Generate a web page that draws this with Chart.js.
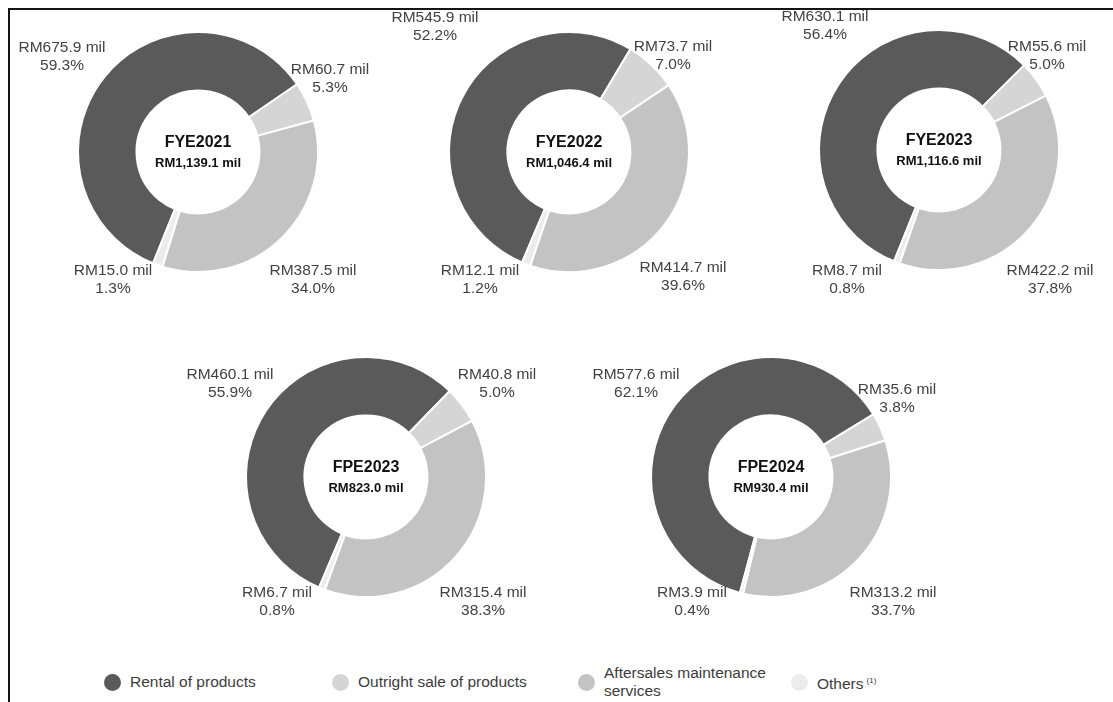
<!DOCTYPE html>
<html>
<head>
<meta charset="utf-8">
<title>Revenue by segment</title>
<script src="https://cdn.jsdelivr.net/npm/chart.js@4.4.1/dist/chart.umd.min.js"></script>
<style>
  html, body { margin: 0; padding: 0; background: #fff; }
  body { width: 1113px; height: 702px; overflow: hidden; position: relative;
         font-family: "Liberation Sans", Arial, sans-serif; }
  .frame { position: absolute; left: 8px; top: 8px; right: 0; bottom: 0;
           border-top: 2px solid #141414; border-left: 2px solid #141414; }
  .donut { position: absolute; width: 400px; height: 330px; }
  .legend-item { position: absolute; display: flex; align-items: center;
                 font-size: 15.5px; color: #3c3c3c; line-height: 18px; }
  .legend-item .dot { width: 17px; height: 17px; border-radius: 50%; margin-right: 9px; flex: none; }
  .legend-item sup { font-size: 8px; vertical-align: 6px; margin-left: 3px; }
</style>
</head>
<body>
<div class="frame"></div>
<div id="charts"></div>
<div id="legend"></div>
<script>
// Revenue segments (RM million) per financial period
const periods = ['FYE2021', 'FYE2022', 'FYE2023', 'FPE2023', 'FPE2024'];
const segments = ['Rental of products', 'Outright sale of products', 'Aftersales maintenance services', 'Others'];
const rental = [675.9, 545.9, 630.1, 460.1, 577.6];
const outrightSale = [60.7, 73.7, 55.6, 40.8, 35.6];
const aftersales = [387.5, 414.7, 422.2, 315.4, 313.2];
const others = [15.0, 12.1, 8.7, 6.7, 3.9];
const totalRevenue = [1139.1, 1046.4, 1116.6, 823.0, 930.4];
const rentalPct = [59.3, 52.2, 56.4, 55.9, 62.1];
const outrightSalePct = [5.3, 7.0, 5.0, 5.0, 3.8];
const aftersalesPct = [34.0, 39.6, 37.8, 38.3, 33.7];
const othersPct = [1.3, 1.2, 0.8, 0.8, 0.4];

// Styling and layout
const segmentColors = ['#5a5a5a', '#d5d5d5', '#c3c3c3', '#ececec'];
const donutCenters = [[198, 152], [569, 152], [939, 150], [366, 477], [771, 477]];
const rotations = [202, 203, 202, 203, 195];
// offset of each value label (centre of its two lines) from the donut centre
const labelOffsets = [
  [[-136, -95], [132, -73], [115, 128], [-85, 128]],
  [[-134, -125], [104, -96], [114, 125], [-89, 128]],
  [[-114, -124], [108, -94], [111, 130], [-92, 130]],
  [[-136, -93], [131, -93], [117, 125], [-89, 125]],
  [[-135, -93], [126, -78], [122, 125], [-79, 125]]
];
const CANVAS_W = 400, CANVAS_H = 330, OUTER_R = 120, INNER_R = 61;

const fmtMil = v => 'RM' + v.toLocaleString('en-US', { minimumFractionDigits: 1, maximumFractionDigits: 1 }) + ' mil';
const fmtPct = v => v.toFixed(1) + '%';

const donutLabels = {
  id: 'donutLabels',
  afterDatasetsDraw(chart, args, opts) {
    const { ctx } = chart;
    const meta = chart.getDatasetMeta(0);
    const k = opts.index;
    const pcts = [rentalPct[k], outrightSalePct[k], aftersalesPct[k], othersPct[k]];
    ctx.save();
    ctx.textAlign = 'center';
    ctx.textBaseline = 'middle';
    ctx.fillStyle = '#424242';
    ctx.font = '15.5px "Liberation Sans", Arial, sans-serif';
    meta.data.forEach((arc, i) => {
      const [dx, dy] = labelOffsets[k][i];
      const v = chart.data.datasets[0].data[i];
      ctx.fillText(fmtMil(v), arc.x + dx, arc.y + dy - 9);
      ctx.fillText(fmtPct(pcts[i]), arc.x + dx, arc.y + dy + 9);
    });
    // period and total in the hole
    const c = meta.data[0];
    ctx.fillStyle = '#111';
    ctx.font = 'bold 16px "Liberation Sans", Arial, sans-serif';
    ctx.fillText(periods[k], c.x, c.y - 9);
    ctx.font = 'bold 13px "Liberation Sans", Arial, sans-serif';
    ctx.fillText(fmtMil(totalRevenue[k]), c.x, c.y + 11);
    ctx.restore();
  }
};

const holder = document.getElementById('charts');
periods.forEach((p, k) => {
  const wrap = document.createElement('div');
  wrap.className = 'donut';
  wrap.style.left = (donutCenters[k][0] - CANVAS_W / 2) + 'px';
  wrap.style.top = (donutCenters[k][1] - CANVAS_H / 2) + 'px';
  const cv = document.createElement('canvas');
  cv.width = CANVAS_W; cv.height = CANVAS_H;
  wrap.appendChild(cv);
  holder.appendChild(wrap);
  new Chart(cv, {
    type: 'doughnut',
    data: {
      labels: segments,
      datasets: [{
        data: [rental[k], outrightSale[k], aftersales[k], others[k]],
        backgroundColor: segmentColors,
        borderColor: '#ffffff',
        borderWidth: 2
      }]
    },
    options: {
      responsive: false,
      animation: false,
      rotation: rotations[k],
      radius: OUTER_R,
      cutout: INNER_R,
      layout: { padding: { left: (CANVAS_W - 2 * OUTER_R) / 2, right: (CANVAS_W - 2 * OUTER_R) / 2,
                           top: (CANVAS_H - 2 * OUTER_R) / 2, bottom: (CANVAS_H - 2 * OUTER_R) / 2 } },
      plugins: { legend: { display: false }, tooltip: { enabled: false }, donutLabels: { index: k } }
    },
    plugins: [donutLabels]
  });
});

// Legend
const legendPos = [[104, 682], [332, 682], [578, 682], [791, 682]];
const legend = document.getElementById('legend');
segments.forEach((s, i) => {
  const item = document.createElement('div');
  item.className = 'legend-item';
  item.style.left = legendPos[i][0] + 'px';
  item.style.top = (legendPos[i][1] - 18) + 'px';
  item.style.height = '36px';
  const dot = document.createElement('span');
  dot.className = 'dot';
  dot.style.background = segmentColors[i];
  item.appendChild(dot);
  const txt = document.createElement('span');
  if (i === 2) {
    txt.innerHTML = 'Aftersales maintenance<br>services';
  } else if (i === 3) {
    txt.innerHTML = s + '<sup>(1)</sup>';
  } else {
    txt.textContent = s;
  }
  item.appendChild(txt);
  legend.appendChild(item);
});
</script>
</body>
</html>
